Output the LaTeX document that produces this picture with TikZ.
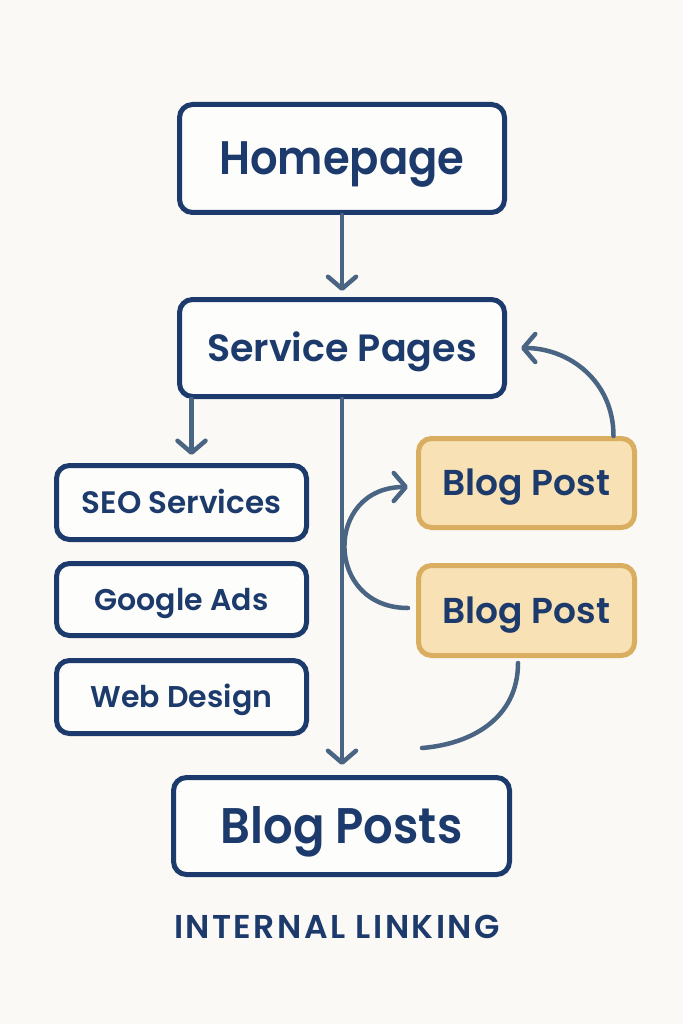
\documentclass[tikz,border=0pt]{standalone}
\usepackage{fontspec}
\newfontfamily\popsb{Poppins SemiBold}
\newfontfamily\popsbh{Poppins SemiBold}[FakeStretch=0.92]
\newfontfamily\popsbb{Poppins SemiBold}[FakeStretch=0.93]
\newfontfamily\popsbl{Poppins SemiBold}[LetterSpace=7.5]
\usetikzlibrary{arrows.meta}
\definecolor{navy}{HTML}{1C3A6B}
\definecolor{slate}{HTML}{4A6584}
\definecolor{goldfill}{HTML}{F8E1B4}
\definecolor{goldline}{HTML}{D9AE60}
\definecolor{bgc}{HTML}{FBF9F5}
\newcommand\fsz[1]{\fontsize{#1}{#1}\selectfont}
\tikzset{
  box/.style={draw=navy, line width=5pt, rounded corners=13pt, fill=white!60!bgc,
    text=navy, inner sep=0pt, align=center, text depth=0pt},
  goldbox/.style={draw=goldline, line width=5pt, rounded corners=13pt, fill=goldfill,
    text=navy, inner sep=0pt, align=center, text depth=0pt},
  conn/.style={draw=slate, line width=4.5pt, line cap=round},
  arr/.style={-{Straight Barb[length=12pt,width=28pt,round]}},
}
\begin{document}
\begin{tikzpicture}[x=1pt,y=-1pt]
\fill[bgc] (0,0) rectangle (683,1024);
\useasboundingbox (0,0) rectangle (683,1024);

\node[box, minimum width=325pt, minimum height=108pt, font=\popsbh\fsz{47}, text height=33pt] (home) at (342,158.5) {Homepage};
\node[box, minimum width=325pt, minimum height=97pt, font=\popsb\fsz{38}, text height=26.6pt] (svc) at (342,348) {Service Pages};
\node[box, minimum width=250pt, minimum height=74pt, font=\popsb\fsz{31}, text height=21.7pt] (seo) at (181.5,502.5) {SEO Services};
\node[box, minimum width=250pt, minimum height=72pt, font=\popsb\fsz{30}, text height=21pt] (gads) at (181.5,599.5) {Google Ads};
\node[box, minimum width=250pt, minimum height=73pt, font=\popsb\fsz{30}, text height=21pt] (web) at (181.5,697) {Web Design};
\node[box, minimum width=336pt, minimum height=97pt, font=\popsbb\fsz{50}, text height=35pt] (blogs) at (341.5,826) {Blog Posts};
\node[goldbox, minimum width=216pt, minimum height=89pt, font=\popsb\fsz{36}, text height=25.2pt] (bpa) at (526.5,483) {Blog Post};
\node[goldbox, minimum width=216pt, minimum height=90pt, font=\popsb\fsz{36}, text height=25.2pt] (bpb) at (526.5,610.5) {Blog Post};
\node[text=navy, font=\popsbl\fsz{33}, inner sep=0pt, text height=23.1pt, text depth=0pt] (title) at (337,926.5) {INTERNAL LINKING};

\draw[conn,arr,shorten >=6pt] (home.south) -- (svc.north);
\draw[conn,arr] ([xshift=10pt]seo.north |- svc.south) -- ([xshift=10pt,yshift=8pt]seo.north);
\draw[conn,arr,shorten >=10pt] (svc.south) -- (svc.south |- blogs.north);
\draw[conn,arr] ([xshift=87pt]bpa.north) .. controls +(0,-55) and +(48,0) .. ([xshift=14pt]svc.east);
\draw[conn,arr] ([xshift=-8pt,yshift=2.5pt]bpb.west) .. controls +(-84,0) and +(-84,0) .. ([xshift=-8pt,yshift=-4pt]bpa.west);
\draw[conn] ([xshift=-8.5pt,yshift=-5pt]bpb.south) .. controls +(0,55) and +(50,-4) .. ([xshift=80.5pt,yshift=27pt]blogs.north);
\end{tikzpicture}
\end{document}
